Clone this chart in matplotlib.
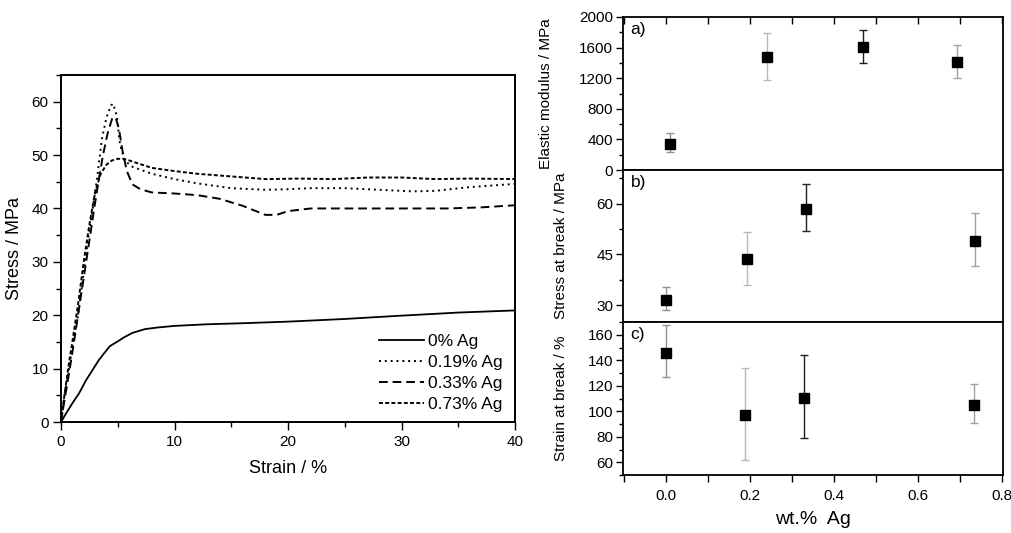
import matplotlib
matplotlib.use("Agg")
import matplotlib.pyplot as plt
from matplotlib.ticker import MultipleLocator
import numpy as np

plt.rcParams['font.family'] = ['Liberation Sans', 'DejaVu Sans']

# ---- stress-strain curves ----
strain_0 = [0, 0.5, 1.0, 1.6, 2.2, 2.8, 3.3, 3.7, 4.3, 5.0, 5.5, 6.3, 7.4, 8.5, 10, 12.8, 16, 20, 25, 29.8, 35, 40]
stress_0 = [0, 1.8, 3.5, 5.4, 7.8, 9.8, 11.5, 12.6, 14.2, 15.1, 15.8, 16.7, 17.4, 17.7, 18.0, 18.3, 18.5, 18.8, 19.3, 19.9, 20.5, 20.9]

strain_019 = [0, 0.3, 0.7, 1.0, 1.5, 2.0, 2.5, 2.8, 3.2, 3.6, 4.0, 4.4, 4.6, 4.9, 5.2, 5.6, 6.3, 8, 10, 12, 15, 18, 20, 22, 25, 28, 31, 33, 36, 38, 40]
stress_019 = [0, 5, 10, 14, 20, 28, 36, 40, 46, 53, 57, 59.3, 59.6, 57.5, 52, 49, 47.8, 46.5, 45.5, 44.7, 43.8, 43.5, 43.6, 43.8, 43.8, 43.5, 43.2, 43.3, 44.0, 44.3, 44.6]

strain_033 = [0, 0.3, 0.7, 1.0, 1.5, 2.0, 2.5, 3.0, 3.3, 3.7, 4.1, 4.5, 4.8, 5.1, 5.4, 5.8, 6.3, 7, 8, 10, 12, 14, 16, 18, 19, 20, 22, 26, 30, 34, 37, 40]
stress_033 = [0, 4, 9, 13, 20, 27, 34, 41, 45, 50, 54, 56.8, 57.1, 55, 51, 47, 44.5, 43.6, 43.0, 42.8, 42.5, 41.8, 40.5, 38.8, 38.8, 39.5, 40.0, 40.0, 40.0, 40.0, 40.2, 40.6]

strain_073 = [0, 0.3, 0.7, 1.0, 1.5, 2.0, 2.5, 3.0, 3.5, 4.0, 4.5, 5.0, 5.5, 6.0, 7, 8, 10, 12, 15, 18, 21, 24, 27, 30, 33, 36, 40]
stress_073 = [0, 5, 11, 15, 22, 30, 37, 43, 46.5, 48.2, 49.0, 49.3, 49.3, 49.0, 48.3, 47.6, 47.0, 46.5, 46.0, 45.5, 45.6, 45.5, 45.8, 45.8, 45.5, 45.6, 45.5]

curve_labels = ["0% Ag", "0.19% Ag", "0.33% Ag", "0.73% Ag"]

# ---- property vs wt.% Ag ----
wt_a = [0.01, 0.24, 0.47, 0.694]
modulus = [340, 1480, 1610, 1410]
modulus_lo = [230, 1180, 1400, 1200]
modulus_hi = [490, 1790, 1830, 1640]

wt_b = [0.0, 0.193, 0.335, 0.737]
stress_break = [31.4, 43.7, 58.5, 49.1]
stress_lo = [28.7, 36.0, 51.8, 41.6]
stress_hi = [35.5, 51.6, 65.8, 57.2]

wt_c = [0.0, 0.188, 0.33, 0.734]
strain_break = [145.9, 97.4, 110.4, 105.0]
strain_lo = [127, 62, 79.2, 91]
strain_hi = [168, 134, 144, 121.4]

bar_colors = ['#909090', '#b8b8b8', '#202020', '#a0a0a0']

fig = plt.figure(figsize=(10.11, 5.33), dpi=100)

# Left axes
ax = fig.add_axes([61/1011, 1-422/533, (515-61)/1011, (422-75)/533])
ax.plot(strain_0, stress_0, color='black', lw=1.3, ls='-', label=curve_labels[0])
ax.plot(strain_019, stress_019, color='black', lw=1.4, ls=(0, (1, 2)), label=curve_labels[1])
ax.plot(strain_033, stress_033, color='black', lw=1.4, ls=(0, (4.5, 2.5)), label=curve_labels[2])
ax.plot(strain_073, stress_073, color='black', lw=1.4, ls=(0, (2, 1.2)), label=curve_labels[3])
ax.set_xlim(0, 40)
ax.set_ylim(0, 65)
ax.xaxis.set_major_locator(MultipleLocator(10))
ax.xaxis.set_minor_locator(MultipleLocator(5))
ax.yaxis.set_major_locator(MultipleLocator(10))
ax.yaxis.set_minor_locator(MultipleLocator(5))
ax.tick_params(which='major', direction='out', length=6, width=1, labelsize=11, pad=3)
ax.tick_params(which='minor', direction='out', length=3.5, width=1)
for s in ax.spines.values():
    s.set_linewidth(1.4)
ax.set_xlabel("Strain / %", fontsize=13, labelpad=8)
ax.set_ylabel("Stress / MPa", fontsize=13, labelpad=6)
leg = ax.legend(loc='lower right', frameon=False, fontsize=12.5, handlelength=2.6,
                handletextpad=0.2, labelspacing=0.33, borderaxespad=0.2,
                bbox_to_anchor=(0.995, 0.0))

# Right panels
L = 623/1011
W = (1003-623)/1011
def fig_y(p):
    return 1 - p/533
axa = fig.add_axes([L, fig_y(170), W, fig_y(17)-fig_y(170)])
axb = fig.add_axes([L, fig_y(322), W, fig_y(170)-fig_y(322)])
axc = fig.add_axes([L, fig_y(475), W, fig_y(322)-fig_y(475)])

def draw(axx, xs, ys, lo, hi):
    for i in range(len(xs)):
        axx.errorbar([xs[i]], [ys[i]], yerr=[[ys[i]-lo[i]], [hi[i]-ys[i]]],
                     fmt='s', color='black', ms=6.5, ecolor=bar_colors[i],
                     elinewidth=1.0, capsize=3, capthick=1.0, zorder=3)

draw(axa, wt_a, modulus, modulus_lo, modulus_hi)
draw(axb, wt_b, stress_break, stress_lo, stress_hi)
draw(axc, wt_c, strain_break, strain_lo, strain_hi)

for axx in (axa, axb, axc):
    axx.set_xlim(-0.102, 0.803)
    axx.xaxis.set_major_locator(MultipleLocator(0.2))
    axx.xaxis.set_minor_locator(MultipleLocator(0.1))
    for s in axx.spines.values():
        s.set_linewidth(1.3)
    axx.tick_params(axis='y', which='major', direction='out', length=5, width=1, labelsize=11, pad=2)
    axx.tick_params(axis='y', which='minor', direction='out', length=3, width=1)

axa.set_ylim(0, 2000)
axa.yaxis.set_major_locator(MultipleLocator(400))
axa.yaxis.set_minor_locator(MultipleLocator(200))
axa.tick_params(axis='x', which='both', bottom=False, labelbottom=False, top=True,
                direction='in', length=5, width=1)
axb.set_ylim(25, 70)
axb.yaxis.set_major_locator(MultipleLocator(15))
axb.yaxis.set_minor_locator(MultipleLocator(7.5))
axb.tick_params(axis='x', which='both', bottom=False, labelbottom=False)
axc.set_ylim(50, 170)
axc.yaxis.set_major_locator(MultipleLocator(20))
axc.yaxis.set_minor_locator(MultipleLocator(10))
axc.tick_params(axis='x', which='both', direction='out', length=5, width=1, labelsize=11, pad=5)
axc.set_xticks([0.0, 0.2, 0.4, 0.6, 0.8])
axc.set_xticklabels(["0.0", "0.2", "0.4", "0.6", "0.8"])

axa.set_ylabel("Elastic modulus / MPa", fontsize=11)
axb.set_ylabel("Stress at break / MPa", fontsize=11)
axc.set_ylabel("Strain at break / %", fontsize=11)
axa.yaxis.set_label_coords(-0.184, 0.5)
axb.yaxis.set_label_coords(-0.145, 0.5)
axc.yaxis.set_label_coords(-0.145, 0.5)
fig.text(813/1011, 1-519/533, "wt.%  Ag", fontsize=14, ha='center', va='center')

for axx, t in zip((axa, axb, axc), ("a)", "b)", "c)")):
    axx.text(0.02, 0.97, t, transform=axx.transAxes, fontsize=12.5, va='top', ha='left')

fig.savefig("out.png", dpi=100)
